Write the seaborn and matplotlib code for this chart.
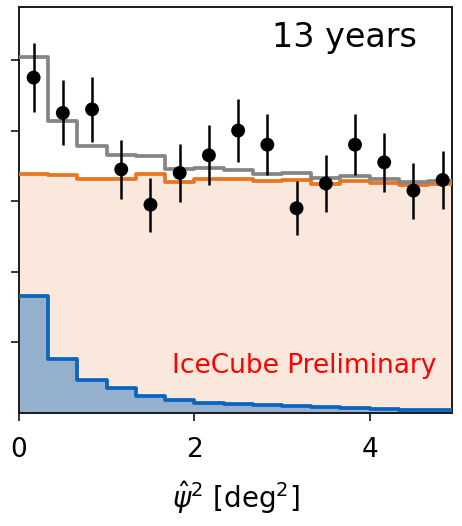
import numpy as np
import pandas as pd
import matplotlib
matplotlib.use("Agg")
import matplotlib.pyplot as plt
import seaborn as sns

# Binning in psi^2 (deg^2)
bin_edges = [0.0, 1/3, 2/3, 1.0, 4/3, 5/3, 2.0, 7/3, 8/3, 3.0, 10/3, 11/3, 4.0, 13/3, 14/3, 5.0]

# Observed events per bin
observed = [95, 85, 86, 69, 59, 68, 73, 80, 76, 58, 65, 76, 71, 63, 66]

# Expected background per bin
background = [67.8, 67.5, 66.2, 66.2, 67.8, 65.3, 66.4, 66.4, 65.6, 66.0,
              65.0, 65.7, 65.2, 64.6, 65.0]

# Expected signal per bin
signal = [33.0, 15.3, 9.3, 7.0, 4.9, 3.8, 2.9, 2.5, 2.2, 1.9, 1.6, 1.3, 1.1, 0.9, 0.8]

edges = np.array(bin_edges)
centers = 0.5 * (edges[:-1] + edges[1:])
df = pd.DataFrame({
    "psi2": centers,
    "obs": np.array(observed, dtype=float),
    "bkg": background,
    "sig": signal,
})
df["total"] = df["bkg"] + df["sig"]

sns.set_style("ticks")
plt.rcParams["font.family"] = ["DejaVu Sans"]
plt.rcParams["text.color"] = "black"
plt.rcParams["axes.labelcolor"] = "black"
plt.rcParams["xtick.color"] = "black"
plt.rcParams["ytick.color"] = "black"

fig = plt.figure(figsize=(4.62, 5.26), dpi=100)
ax = fig.add_axes([19 / 462, 1 - 413 / 526, (452 - 19) / 462, (413 - 7) / 526])

common = dict(data=df, x="psi2", bins=list(bin_edges), element="step", ax=ax)

# Background: light fill; signal: blue fill on top of it
sns.histplot(weights="bkg", fill=True, color="#fbe8dc", alpha=1.0,
             linewidth=0, zorder=1, **common)
sns.histplot(weights="sig", fill=True, color="#94b0cd", alpha=1.0,
             linewidth=0, zorder=2, **common)

# Outlines
sns.histplot(weights="bkg", fill=False, color="#e8751f", linewidth=2.7,
             zorder=3, **common)
sns.histplot(weights="sig", fill=False, color="#0a64c0", linewidth=2.7,
             zorder=3, **common)
# Signal + background
sns.histplot(weights="total", fill=False, color="#858585", linewidth=2.7,
             zorder=4, **common)

# Data with Poisson errors
ax.errorbar(df["psi2"], df["obs"], yerr=np.sqrt(df["obs"]), fmt="none",
            ecolor="black", elinewidth=1.8, capsize=0, zorder=5)
sns.scatterplot(data=df, x="psi2", y="obs", color="black", s=100,
                edgecolor="none", ax=ax, zorder=6)

ax.set_xlim(0, 4.94)
ax.set_ylim(0, 115)
ax.set_xticks([0, 2, 4])
ax.set_yticks([20, 40, 60, 80, 100])
ax.set_yticklabels([])
ax.set_ylabel("")
ax.set_xlabel(r"$\hat{\psi}^2$ [deg$^2$]", fontsize=20, labelpad=12,
              color="black")
ax.tick_params(axis="both", which="major", length=6, width=1.1,
               labelsize=19, color="black", labelcolor="black")
ax.tick_params(axis="x", pad=11)
for sp in ax.spines.values():
    sp.set_visible(True)
    sp.set_linewidth(1.4)
    sp.set_color("#1a1a1a")

ax.text(0.919, 0.901, "13 years", transform=ax.transAxes, ha="right",
        va="baseline", fontsize=24, color="black")
ax.text(0.965, 0.0985, "IceCube Preliminary", transform=ax.transAxes,
        ha="right", va="baseline", fontsize=19, color="red")

fig.savefig("out.png", dpi=100)
